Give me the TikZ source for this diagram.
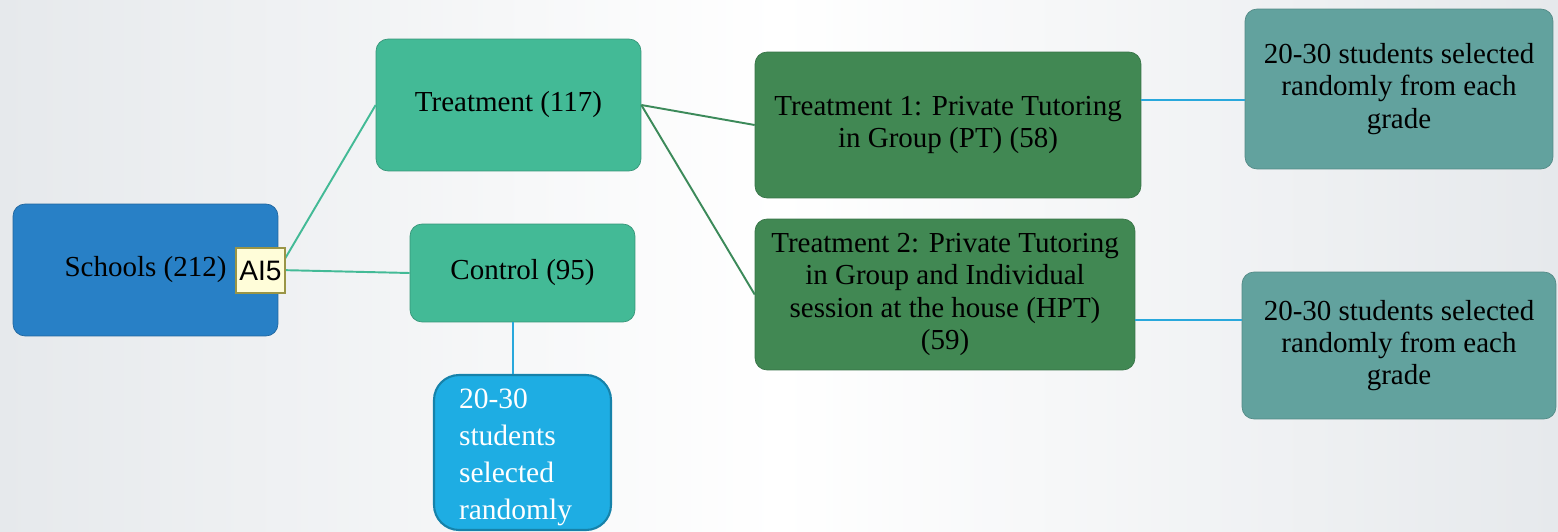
\documentclass[tikz,border=0pt]{standalone}
\usepackage{fontspec}
\setmainfont{Liberation Serif}
\newfontfamily\notefont{Liberation Sans}

\definecolor{schoolblue}{HTML}{2880C6}
\definecolor{armgreen}{HTML}{43BA96}
\definecolor{tutorgreen}{HTML}{418853}
\definecolor{gradeteal}{HTML}{62A29E}
\definecolor{pickblue}{HTML}{1EADE3}
\definecolor{linkgreen}{HTML}{3C8A5A}
\definecolor{linkblue}{HTML}{29A8DC}
\definecolor{sideback}{HTML}{E6E9EC}

\begin{document}
\begin{tikzpicture}[x=0.02cm,y=-0.02cm]

\tikzset{box/.style = {shape=rectangle,rounded corners=0.24cm,draw,align=center,inner sep=0pt,font=\fontsize{16.5}{18.3}\selectfont}}
\tikzset{trunk/.style = {draw=armgreen,line width=1.1pt}}
\tikzset{branch/.style = {draw=linkgreen,line width=1.1pt}}
\tikzset{twig/.style = {draw=linkblue,line width=0.6pt}}

\useasboundingbox (0,0) rectangle (1558,531);
\shade[left color=sideback,right color=sideback,middle color=white] (0,0) rectangle (1558,531);

%boxes
\node[box, fill=schoolblue, draw=schoolblue!80!black, minimum width=5.3cm, minimum height=2.64cm] (schools) at (145.5,270) {Schools (212)};
\node[box, fill=armgreen, draw=armgreen!80!black, minimum width=5.3cm, minimum height=2.64cm] (treat) at (508.5,105) {Treatment (117)};
\node[box, fill=armgreen, draw=armgreen!80!black, minimum width=4.5cm, minimum height=1.96cm] (control) at (522.5,273) {Control (95)};
\node[box, rounded corners=0.5cm, fill=pickblue, draw=pickblue!75!black, line width=1.2pt, text=white, align=left, inner xsep=0.5cm, text width=2.54cm, minimum height=3.1cm, font=\fontsize{16.8}{21}\selectfont] (pick) at (522.5,452.5) {\rule{0pt}{0.6cm}20-30\\students\\selected\\randomly};
\node[box, fill=tutorgreen, draw=tutorgreen!85!black, minimum width=7.72cm, minimum height=2.92cm] (t1) at (948,125) {Treatment 1: Private Tutoring\\in Group (PT) (58)};
\node[box, fill=tutorgreen, draw=tutorgreen!85!black, minimum width=7.6cm, minimum height=3.02cm] (t2) at (945,294.5) {Treatment 2: Private Tutoring\\in Group and Individual\\session at the house (HPT)\\(59)};
\node[box, fill=gradeteal, draw=gradeteal!85!black, minimum width=6.16cm, minimum height=3.2cm] (r1) at (1399,89) {20-30 students selected\\randomly from each\\grade};
\node[box, fill=gradeteal, draw=gradeteal!85!black, minimum width=6.28cm, minimum height=2.94cm] (r2) at (1399,345.5) {20-30 students selected\\randomly from each\\grade};

%links
\draw[trunk] (schools.east) -- (treat.west);
\draw[trunk] (schools.east) -- (control.west);
\draw[branch] (treat.east) -- (t1.west);
\draw[branch] (treat.east) -- (t2.west);
\draw[twig] (control.south -| 513,0) -- (pick.north -| 513,0);
\draw[twig] (t1.east |- 0,100) -- (r1.west |- 0,100);
\draw[twig] (t2.east |- 0,320) -- (r2.west |- 0,320);

%comment tag
\node[draw=yellow!55!black, fill=yellow!15, line width=0.6pt, minimum width=0.98cm, minimum height=0.9cm, inner sep=0pt, font=\notefont\fontsize{16}{18}\selectfont] (tag) at (260.5,270.5) {AI5};

\end{tikzpicture}
\end{document}
